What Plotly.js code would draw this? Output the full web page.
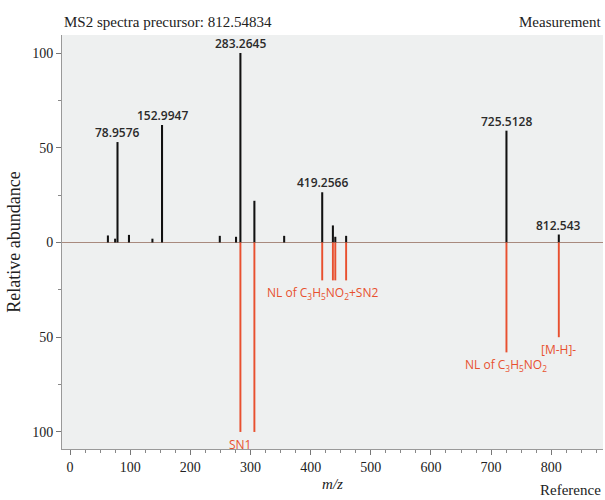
<!DOCTYPE html>
<html><head><meta charset="utf-8">
<script src="https://cdn.plot.ly/plotly-3.0.1.min.js"></script>
<style>body{margin:0;background:#fff}#c{width:605px;height:500px}</style>
</head><body><div id="c"></div>
<script>
// Measurement (top, black) peaks
const measMz  = [63, 75, 78.9576, 98, 137, 152.9947, 249, 276, 283.2645, 306.5, 356, 419.2566, 437, 441, 459, 725.5128, 812.543];
const measAbd = [3.7, 2, 53, 4, 2, 62, 3.5, 3, 100, 22, 3.5, 26.5, 9, 3, 3.5, 59, 4.2];
// Labelled measurement peaks
const labelMz  = [78.9576, 152.9947, 283.2645, 419.2566, 725.5128, 812.543];
const labelAbd = [53, 62, 100, 26.5, 59, 4.2];
const labelTxt = ["78.9576", "152.9947", "283.2645", "419.2566", "725.5128", "812.543"];
// Reference (bottom, red) peaks
const refMz  = [283.2645, 306.5, 419.2566, 437, 441, 459, 725.5128, 812.543];
const refAbd = [100, 100, 20, 20, 20, 20, 58, 50];
// Reference annotations
const refLabelMz  = [283.2645, 419.2566, 725.5128, 812.543];
const refLabelY   = [100, 20, 58, 50];
const refLabelTxt = ["SN1", "NL of C<sub>3</sub>H<sub>5</sub>NO<sub>2</sub>+SN2", "NL of C<sub>3</sub>H<sub>5</sub>NO<sub>2</sub>", "[M-H]-"];
const yTickVals = [-100, -50, 0, 50, 100];
const yTickText = ["100", "50", "0", "50", "100"];

const red = "#e8502f";
const traces = [
  {type: "bar", x: measMz, y: measAbd, width: 3.4, marker: {color: "#111", line: {width: 0}}, hoverinfo: "x+y"},
  {type: "bar", x: refMz, y: refAbd.map(v => -v), width: 3.2, marker: {color: red, line: {width: 0}}, hoverinfo: "x+y"}
];

const ann = [];
labelMz.forEach((m, i) => ann.push({x: m, y: labelAbd[i], text: labelTxt[i], showarrow: false, yanchor: "bottom", yshift: -1,
  font: {family: "Open Sans, sans-serif", size: 12, color: "#2a2a2a", weight: 600}}));
refLabelMz.forEach((m, i) => {
  ann.push({x: m, y: -refLabelY[i], text: refLabelTxt[i], showarrow: false, yanchor: "top", yshift: -2,
    font: {family: "Open Sans, sans-serif", size: 12, color: red}});
});
const serif = {family: "Liberation Serif, Times New Roman, serif", size: 14, color: "#222"};
const serifL = {family: "Liberation Serif, Times New Roman, serif", size: 15, color: "#222"};
ann.push({xref: "paper", yref: "paper", x: 0, y: 1, xanchor: "left", yanchor: "bottom", yshift: 3, text: "MS2 spectra precursor: 812.54834", showarrow: false, font: serifL});
ann.push({xref: "paper", yref: "paper", x: 1, y: 1, xanchor: "right", yanchor: "bottom", yshift: 3, text: "Measurement", showarrow: false, font: serifL});
ann.push({xref: "paper", yref: "paper", x: 1, y: 0, xanchor: "right", yanchor: "top", yshift: -31, text: "Reference", showarrow: false, font: serifL});

const layout = {
  width: 605, height: 500,
  margin: {l: 62, r: 2, t: 35, b: 51},
  paper_bgcolor: "#fff", plot_bgcolor: "#eef0f0",
  barmode: "overlay", showlegend: false,
  xaxis: {range: [-13.3, 886], tickvals: [0,100,200,300,400,500,600,700,800], ticks: "outside", ticklen: 5, tickcolor: "#777",
    minor: {dtick: 25, tick0: 0, ticks: "outside", ticklen: 3, tickcolor: "#888"},
    showline: true, linecolor: "#999", linewidth: 1, showgrid: false, zeroline: false,
    tickfont: serif, title: {text: "<i>m/z</i>", font: serifL, standoff: 4}},
  yaxis: {range: [-109, 109.5], tickvals: yTickVals, ticktext: yTickText, ticks: "outside", ticklen: 5, tickcolor: "#777",
    minor: {dtick: 25, tick0: 0, ticks: "outside", ticklen: 3, tickcolor: "#888"},
    showline: true, linecolor: "#999", linewidth: 1, showgrid: false,
    zeroline: true, zerolinecolor: "#a88a7e", zerolinewidth: 1,
    tickfont: serif, title: {text: "Relative abundance", font: {family: serif.family, size: 18, color: "#222"}, standoff: 6}},
  annotations: ann
};
Plotly.newPlot("c", traces, layout, {displayModeBar: false, staticPlot: true});
</script></body></html>
